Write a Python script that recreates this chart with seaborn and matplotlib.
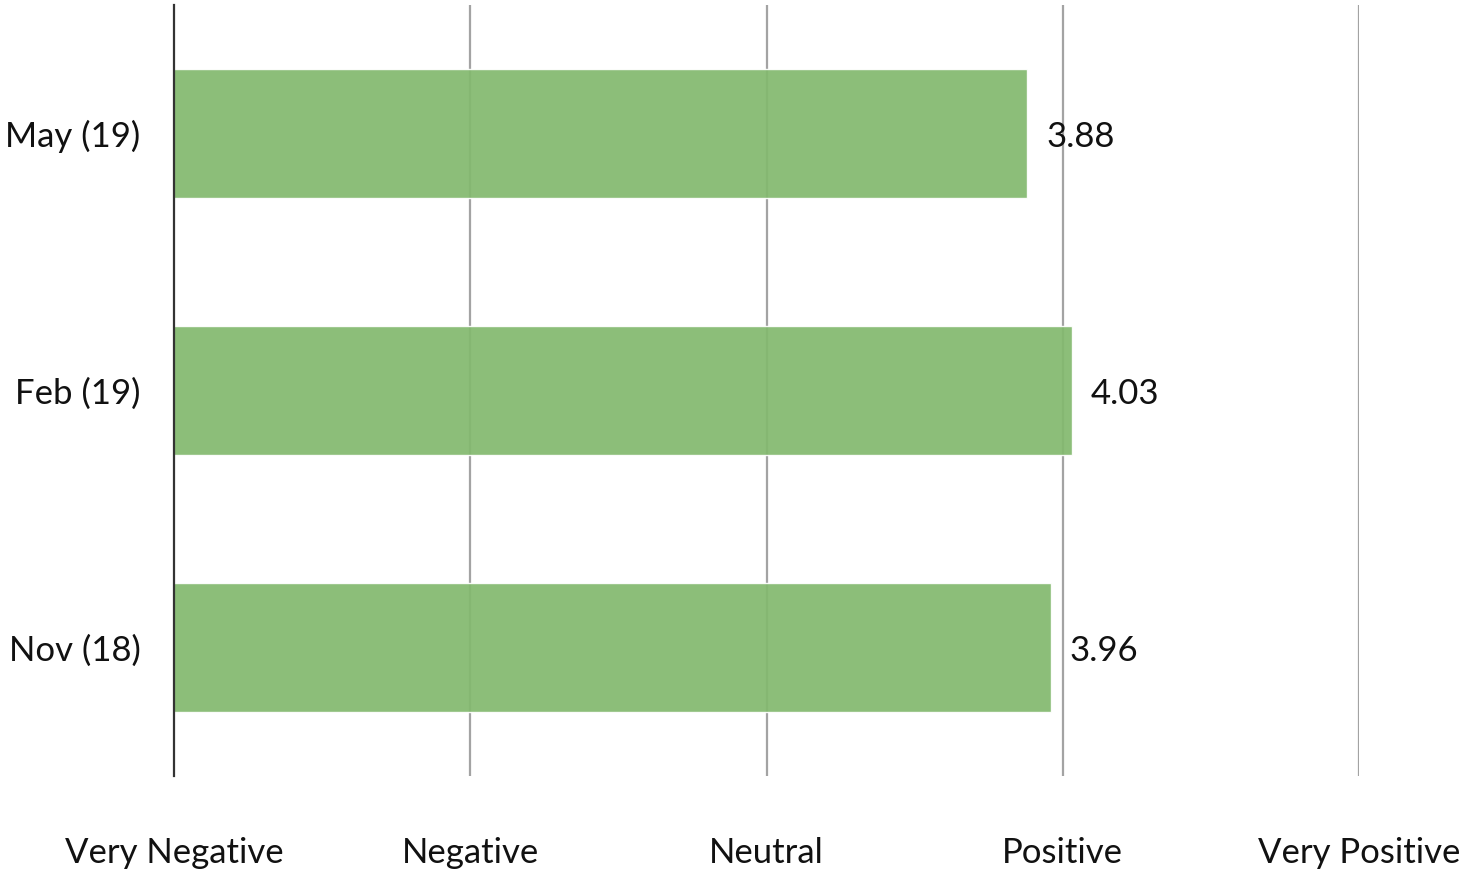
import matplotlib
matplotlib.use("Agg")
import matplotlib.pyplot as plt
import seaborn as sns
import pandas as pd

categories = ["May (19)", "Feb (19)", "Nov (18)"]
values = [3.88, 4.03, 3.96]
tick_values = [1, 2, 3, 4, 5]
tick_labels = ["Very Negative", "Negative", "Neutral", "Positive", "Very Positive"]

sns.set_theme(style="white")
plt.rcParams['font.family'] = ['Lato', 'DejaVu Sans']

df = pd.DataFrame({"period": categories, "score": values})

fig = plt.figure(figsize=(14.84, 8.75), dpi=100)
ax = fig.add_axes([174/1484, 1 - 776/875, (1359 - 174)/1484, (776 - 5)/875])

for t in tick_values[1:]:
    ax.axvline(t, color="#a3a3a3", lw=1.6, zorder=0)

sns.barplot(data=df, x="score", y="period", orient="h", color="#83b96f",
            width=0.5, saturation=1, alpha=0.93, ax=ax, zorder=2)

for i, v in enumerate(values):
    ax.text(v + 0.064, i + 0.015, f"{v:.2f}", va="center", ha="left",
            fontsize=25, color="#111111", zorder=3)

ax.set_xlim(1, 5)
ax.set_ylim(2.5, -0.5)
ax.set_xticks(tick_values)
ax.set_xticklabels(tick_labels)
ax.set_xlabel("")
ax.set_ylabel("")
ax.tick_params(axis="x", length=0, pad=44, labelsize=25, labelcolor="#111111")
ax.tick_params(axis="y", length=0, pad=24, labelsize=25, labelcolor="#111111")

for s in ["top", "right", "bottom"]:
    ax.spines[s].set_visible(False)
ax.spines["left"].set_color("#333333")
ax.spines["left"].set_linewidth(1.6)
ax.spines["left"].set_zorder(4)

fig.savefig("out.png", dpi=100, facecolor="white")
